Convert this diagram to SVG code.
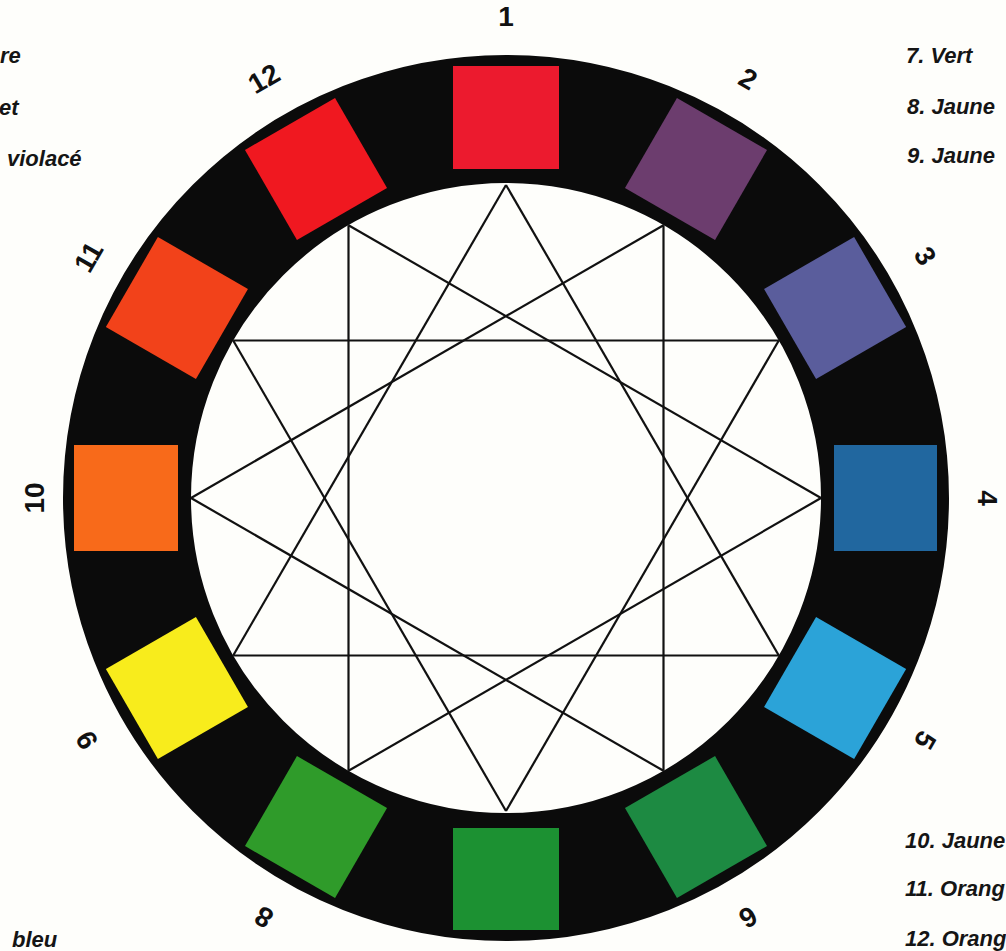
<svg xmlns="http://www.w3.org/2000/svg" width="1006" height="951" viewBox="0 0 1006 951">
  <style>
    .bg { fill: #fefefb; }
    .ring { fill: none; stroke: #0b0b0b; stroke-width: 128; }
    .sq { stroke: none; }
    .num { font-family: "Liberation Sans", "DejaVu Sans", sans-serif; font-weight: bold; font-size: 28px; fill: #111; text-anchor: middle; dominant-baseline: central; }
    .legend { font-family: "Liberation Sans", "DejaVu Sans", sans-serif; font-style: italic; font-weight: bold; font-size: 22px; fill: #151515; }
    .star line { stroke: #111; stroke-width: 2.2; }
  </style>
  <rect class="bg" x="0" y="0" width="1006" height="951"/>

  <g id="wheel">
    <circle class="ring" cx="506" cy="498" r="379"/>
  </g>

  <g id="connectors" class="star">
    <!-- triangle 1-5-9 -->
    <line x1="506" y1="185" x2="778.8" y2="655.5"/>
    <line x1="778.8" y1="655.5" x2="233.2" y2="655.5"/>
    <line x1="233.2" y1="655.5" x2="506" y2="185"/>
    <!-- triangle 2-6-10 -->
    <line x1="663.5" y1="225.2" x2="663.5" y2="770.8"/>
    <line x1="663.5" y1="770.8" x2="191" y2="498"/>
    <line x1="191" y1="498" x2="663.5" y2="225.2"/>
    <!-- triangle 3-7-11 -->
    <line x1="778.8" y1="340.5" x2="506" y2="811"/>
    <line x1="506" y1="811" x2="233.2" y2="340.5"/>
    <line x1="233.2" y1="340.5" x2="778.8" y2="340.5"/>
    <!-- triangle 4-8-12 -->
    <line x1="821" y1="498" x2="348.5" y2="770.8"/>
    <line x1="348.5" y1="770.8" x2="348.5" y2="225.2"/>
    <line x1="348.5" y1="225.2" x2="821" y2="498"/>
  </g>

  <g id="node-1" transform="translate(506 498) rotate(0)">
    <rect class="sq" x="-53" y="-432" width="106" height="103" fill="#ec1a2e"/>
    <text class="num" x="0" y="-482">1</text>
  </g>
  <g id="node-2" transform="translate(506 498) rotate(30)">
    <rect class="sq" x="-52" y="-432" width="104" height="104" fill="#6c3d6e"/>
    <text class="num" x="0" y="-484">2</text>
  </g>
  <g id="node-3" transform="translate(506 498) rotate(60)">
    <rect class="sq" x="-52" y="-432" width="104" height="104" fill="#5a5d9c"/>
    <text class="num" x="0" y="-484">3</text>
  </g>
  <g id="node-4" transform="translate(506 498) rotate(90)">
    <rect class="sq" x="-53" y="-431" width="106" height="103" fill="#21679f"/>
    <text class="num" x="0" y="-481">4</text>
  </g>
  <g id="node-5" transform="translate(506 498) rotate(120)">
    <rect class="sq" x="-52" y="-432" width="104" height="104" fill="#2ba3d8"/>
    <text class="num" x="0" y="-484">5</text>
  </g>
  <g id="node-6" transform="translate(506 498) rotate(150)">
    <rect class="sq" x="-52" y="-432" width="104" height="104" fill="#1d8a42"/>
    <text class="num" x="0" y="-484">6</text>
  </g>
  <g id="node-7" transform="translate(506 498) rotate(180)">
    <rect class="sq" x="-53" y="-432" width="106" height="102" fill="#1c9132"/>
  </g>
  <g id="node-8" transform="translate(506 498) rotate(210)">
    <rect class="sq" x="-52" y="-432" width="104" height="104" fill="#2f9b2a"/>
    <text class="num" x="0" y="-484">8</text>
  </g>
  <g id="node-9" transform="translate(506 498) rotate(240)">
    <rect class="sq" x="-52" y="-432" width="104" height="104" fill="#f8ec1c"/>
    <text class="num" x="0" y="-484">9</text>
  </g>
  <g id="node-10" transform="translate(506 498) rotate(270)">
    <rect class="sq" x="-53" y="-432" width="106" height="104" fill="#f86a1a"/>
    <text class="num" x="0" y="-472">10</text>
  </g>
  <g id="node-11" transform="translate(506 498) rotate(300)">
    <rect class="sq" x="-52" y="-432" width="104" height="104" fill="#f2421a"/>
    <text class="num" x="0" y="-482">11</text>
  </g>
  <g id="node-12" transform="translate(506 498) rotate(330)">
    <rect class="sq" x="-52" y="-432" width="104" height="104" fill="#f01820"/>
    <text class="num" x="0" y="-484">12</text>
  </g>

  <g id="legend-left">
    <text class="legend" x="0" y="63">re</text>
    <text class="legend" x="-1" y="115">et</text>
    <text class="legend" x="7" y="166">violacé</text>
    <text class="legend" x="12" y="947">bleu</text>
  </g>
  <g id="legend-right">
    <text class="legend" x="906" y="63">7. Vert</text>
    <text class="legend" x="907" y="114">8. Jaune</text>
    <text class="legend" x="907" y="163">9. Jaune</text>
    <text class="legend" x="905" y="848">10. Jaune</text>
    <text class="legend" x="905" y="896">11. Orang</text>
    <text class="legend" x="905" y="946">12. Orang</text>
  </g>
</svg>
